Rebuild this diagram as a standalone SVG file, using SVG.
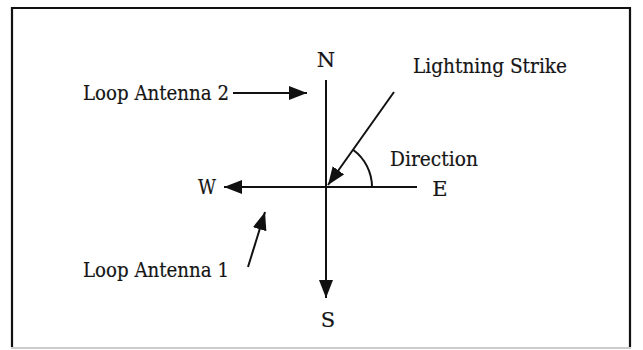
<svg xmlns="http://www.w3.org/2000/svg" width="643" height="350" viewBox="0 0 643 350">
<style>
text{font-family:'DejaVu Serif','Liberation Serif',serif;font-size:21px;fill:#151515;stroke:#151515;stroke-width:0.2}
.ln{stroke:#111;stroke-width:2;fill:none}
</style>
<defs>
<marker id="ah" markerUnits="userSpaceOnUse" markerWidth="20" markerHeight="16" refX="18" refY="7" orient="auto">
<path d="M0,0 L18,7 L0,14 Z" fill="#111"/>
</marker>
</defs>
<rect x="0" y="0" width="643" height="350" fill="#fff"/>
<g id="frame">
<path d="M12,347 L12,8 L630,8 L630,347" stroke="#111" stroke-width="2.2" fill="none"/>
<line x1="11" y1="348" x2="631" y2="348" stroke="#bbb" stroke-width="1.5"/>
</g>
<g id="connectors">
<line class="ln" x1="326" y1="80" x2="326" y2="298" marker-end="url(#ah)"/>
<line class="ln" x1="417" y1="187" x2="224" y2="187" marker-end="url(#ah)"/>
<line class="ln" x1="394" y1="92" x2="328" y2="185" marker-end="url(#ah)"/>
<line class="ln" x1="233" y1="93" x2="307" y2="93" marker-end="url(#ah)"/>
<line class="ln" x1="248" y1="267" x2="265" y2="212" marker-end="url(#ah)"/>
<path class="ln" d="M372,187 A46,46 0 0 0 353,149.8"/>
</g>
<g id="n-north"><text x="326" y="67" text-anchor="middle">N</text></g>
<g id="n-south"><text x="328" y="327" text-anchor="middle">S</text></g>
<g id="n-west"><text x="207" y="194" text-anchor="middle" textLength="18" lengthAdjust="spacingAndGlyphs">W</text></g>
<g id="n-east"><text x="440" y="196" text-anchor="middle">E</text></g>
<g id="n-direction"><text x="390" y="166" textLength="88" lengthAdjust="spacingAndGlyphs">Direction</text></g>
<g id="n-lightning"><text x="413" y="73" textLength="154" lengthAdjust="spacingAndGlyphs">Lightning Strike</text></g>
<g id="n-loop2"><text x="83" y="100" textLength="146" lengthAdjust="spacingAndGlyphs">Loop Antenna 2</text></g>
<g id="n-loop1"><text x="83" y="277" textLength="146" lengthAdjust="spacingAndGlyphs">Loop Antenna 1</text></g>
</svg>
